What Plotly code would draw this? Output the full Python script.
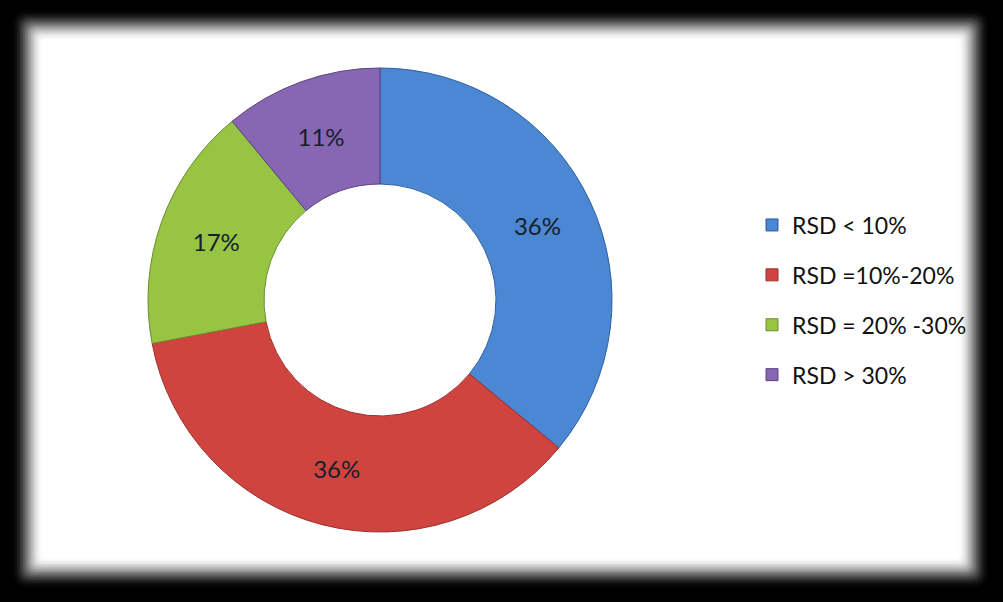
import math
import plotly.graph_objects as go

categories = ["RSD < 10%", "RSD =10%-20%", "RSD = 20% -30%", "RSD > 30%"]
values = [36, 36, 17, 11]
colors = ["#4B87D3", "#D0443F", "#98C444", "#8766B3"]
edge_colors = ["#2F5E9E", "#9B2F2E", "#6B8C2E", "#5B427E"]

FONT = "Lato, Open Sans, sans-serif"
W, H = 1003, 602

fig = go.Figure()

fig.add_trace(go.Pie(
    labels=categories,
    values=values,
    hole=0.5,
    sort=False,
    direction="clockwise",
    rotation=0,
    marker=dict(colors=colors, line=dict(color=edge_colors, width=1)),
    textinfo="percent",
    textposition="inside",
    insidetextorientation="horizontal",
    textfont=dict(family=FONT, size=24, color="#15202b"),
    domain=dict(x=[(380 - 232) / W, (380 + 232) / W],
                y=[(H - 300 - 232) / H, (H - 300 + 232) / H]),
    showlegend=False,
    hoverinfo="skip",
))

# legend entries (one group per category so the gap can be set)
for cat, col, ec in zip(categories, colors, edge_colors):
    fig.add_trace(go.Scatter(
        x=[None], y=[None], mode="markers", name=cat, legendgroup=cat,
        marker=dict(symbol="square", size=12, color=col, line=dict(color=ec, width=1)),
    ))

# soft glowing frame: black border blurring into white panel
shapes = []
n = 20
for i in range(n):
    t = (i + 1) / n
    inset = 10 + i * 1.6
    v = int(round(255 * (0.5 - 0.5 * math.cos(math.pi * t))))
    r = 14 - i * 0.5
    x0, x1 = inset + 2, W - inset - 4
    y0, y1 = inset, H - inset - 4
    path = (f"M {x0 + r},{y0} L {x1 - r},{y0} Q {x1},{y0} {x1},{y0 + r} "
            f"L {x1},{y1 - r} Q {x1},{y1} {x1 - r},{y1} L {x0 + r},{y1} "
            f"Q {x0},{y1} {x0},{y1 - r} L {x0},{y0 + r} Q {x0},{y0} {x0 + r},{y0} Z")
    # convert pixel path to paper coords
    def conv(p):
        out = []
        for tok in p.split(" "):
            if "," in tok:
                a, b = tok.split(",")
                out.append(f"{float(a) / W:.5f},{1 - float(b) / H:.5f}")
            else:
                out.append(tok)
        return " ".join(out)
    shapes.append(dict(
        type="path", xref="paper", yref="paper", layer="below",
        path=conv(path),
        fillcolor=f"rgb({v},{v},{v})", line=dict(width=0),
    ))

fig.update_layout(
    width=W, height=H,
    margin=dict(l=0, r=0, t=0, b=0),
    paper_bgcolor="black",
    plot_bgcolor="rgba(0,0,0,0)",
    shapes=shapes,
    xaxis=dict(visible=False, range=[0, 1]),
    yaxis=dict(visible=False, range=[0, 1]),
    legend=dict(
        x=752 / W, y=(H - 300) / H, xanchor="left", yanchor="middle",
        font=dict(family=FONT, size=23, color="#111111"),
        bgcolor="rgba(0,0,0,0)",
        tracegroupgap=17,
        itemclick=False,
    ),
)

fig.write_html(
    "out.html",
    config={"displayModeBar": False},
    post_script="document.body.style.margin='0';document.body.style.background='black';",
)
